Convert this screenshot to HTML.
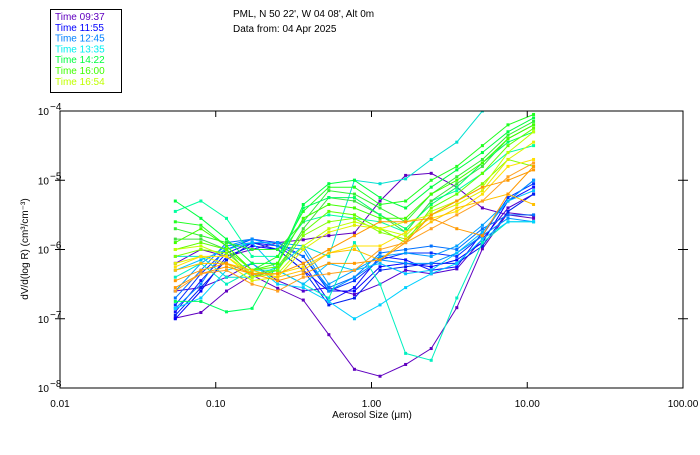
<!DOCTYPE html>
<html><head><meta charset="utf-8">
<style>
body{margin:0;background:#fff;width:700px;height:450px;overflow:hidden;font-family:"Liberation Sans",sans-serif}
svg text{font-family:"Liberation Sans",sans-serif;font-size:10px}
</style></head>
<body>
<svg id="chart" width="700" height="450"></svg>
<script>
const sizes=[];
const firstSize=0.055, logStep=0.1643;
for(let k=0;k<15;k++) sizes.push(firstSize*Math.pow(10,logStep*k));
const seriesColors=["#6000c0","#6000c0","#5000d0","#0000ff","#1010ff","#0030ff","#0020f0","#0070ff","#0090ff","#00a0ff","#00e0d0","#00f0c0","#00d0ff","#00c0ff","#00ffa0",
"#00ff40","#20ff20","#30f030","#40e040","#00ff60","#40ff00","#60ff00","#80ff00","#c0ff00","#e0f000","#ffe000","#ffc000","#ff9900","#ff9900","#ffa020"];
const logValues=[
[-6.99,-6.91,-6.60,-6.37,-6.56,-6.73,-7.23,-7.73,-7.83,-7.66,-7.43,-6.84,-5.99,-5.47,-5.51],
[-6.2,-6.0,-6.1,-6.0,-5.9,-5.86,-5.8,-5.76,-5.3,-4.93,-4.9,-5.1,-5.4,-5.5,-5.55],
[-6.6,-6.55,-6.4,-6.2,-6.45,-6.6,-6.55,-6.65,-6.5,-6.3,-6.35,-6.28,-5.85,-5.4,-5.2],
[-7.0,-6.6,-6.1,-5.95,-6.0,-6.3,-6.6,-6.6,-6.25,-6.2,-6.25,-6.15,-5.9,-5.3,-5.0],
[-6.9,-6.45,-6.05,-5.9,-5.95,-6.2,-6.75,-6.55,-6.1,-6.15,-6.3,-6.25,-5.75,-5.3,-5.1],
[-6.8,-6.35,-6.0,-5.85,-5.9,-6.1,-6.6,-6.45,-6.15,-6.05,-6.05,-6.1,-5.8,-5.25,-5.05],
[-6.95,-6.55,-6.15,-5.9,-6.0,-6.3,-6.8,-6.7,-6.3,-6.25,-6.2,-6.2,-5.95,-5.45,-5.2],
[-6.7,-6.3,-5.9,-5.85,-5.95,-6.1,-6.55,-6.4,-6.05,-6.0,-5.95,-6.0,-5.7,-5.5,-5.5],
[-6.85,-6.5,-5.95,-5.85,-5.95,-6.0,-6.6,-6.4,-6.15,-6.2,-6.2,-6.05,-5.8,-5.55,-5.6],
[-6.6,-6.2,-5.95,-5.9,-5.9,-5.95,-6.5,-6.3,-6.1,-6.05,-6.1,-5.95,-5.65,-5.3,-5.0],
[-6.1,-6.1,-6.4,-6.4,-6.25,-5.95,-6.1,-5.0,-5.05,-4.98,-4.7,-4.45,-4.0,-3.8,-3.8],
[-6.4,-6.2,-6.5,-6.3,-6.3,-6.5,-6.7,-5.9,-6.5,-7.5,-7.6,-6.7,-5.9,-5.6,-5.6],
[-6.85,-6.7,-6.3,-6.2,-6.5,-6.55,-6.75,-7.0,-6.8,-6.55,-6.35,-6.2,-5.85,-5.6,-5.6],
[-6.3,-6.15,-6.0,-5.9,-6.3,-6.5,-6.2,-6.3,-6.2,-6.35,-6.3,-6.05,-5.75,-5.3,-5.15],
[-5.45,-5.3,-5.55,-6.1,-6.1,-5.6,-5.5,-5.55,-5.6,-5.75,-5.3,-5.15,-4.9,-4.6,-4.5],
[-5.3,-5.55,-5.85,-6.2,-6.2,-5.35,-5.05,-5.0,-5.25,-5.4,-5.1,-4.85,-4.6,-4.3,-4.1],
[-5.6,-5.65,-5.95,-6.3,-6.1,-5.45,-5.1,-5.1,-5.35,-5.3,-5.0,-4.8,-4.5,-4.2,-4.05],
[-5.7,-5.8,-5.9,-6.0,-6.0,-5.6,-5.15,-5.2,-5.4,-5.6,-5.2,-4.95,-4.7,-4.35,-4.15],
[-5.85,-5.85,-6.0,-6.4,-6.3,-5.7,-5.25,-5.3,-5.5,-5.75,-5.3,-5.05,-4.8,-4.4,-4.2],
[-6.75,-6.75,-6.9,-6.85,-6.2,-5.4,-5.25,-5.25,-5.5,-5.7,-5.35,-5.1,-4.75,-4.45,-4.3],
[-5.9,-5.7,-5.95,-6.3,-6.2,-5.55,-5.35,-5.4,-5.55,-5.55,-5.2,-5.0,-4.75,-4.4,-4.2],
[-6.0,-5.9,-6.0,-6.3,-6.25,-5.75,-5.45,-5.5,-5.7,-5.9,-5.4,-5.2,-4.9,-4.5,-4.25],
[-6.1,-6.0,-6.05,-6.35,-6.3,-5.8,-5.6,-5.55,-5.75,-5.85,-5.5,-5.3,-5.05,-4.7,-4.8],
[-6.0,-5.95,-6.1,-6.4,-6.35,-5.95,-5.7,-5.6,-5.7,-5.8,-5.45,-5.3,-5.1,-4.6,-4.3],
[-6.2,-6.1,-6.2,-6.45,-6.4,-6.0,-5.75,-5.65,-5.7,-5.6,-5.5,-5.35,-5.15,-4.7,-4.45],
[-6.25,-6.1,-6.1,-6.35,-6.35,-6.25,-6.05,-5.95,-5.95,-5.75,-5.55,-5.45,-5.2,-4.8,-4.7],
[-6.3,-6.2,-6.2,-6.3,-6.4,-6.3,-6.05,-6.0,-6.15,-5.85,-5.6,-5.4,-5.3,-5.2,-5.35],
[-6.55,-6.35,-6.25,-6.35,-6.35,-6.2,-6.0,-5.8,-5.6,-5.6,-5.55,-5.7,-5.8,-5.2,-4.8],
[-6.45,-6.3,-6.2,-6.35,-6.45,-6.35,-6.2,-6.2,-6.15,-5.9,-5.5,-5.3,-5.1,-5.0,-4.85],
[-6.6,-6.35,-6.3,-6.5,-6.6,-6.4,-6.35,-6.3,-6.0,-5.9,-5.7,-5.5,-5.3,-4.95,-4.75]
];
const xTickLabels=["0.01","0.10","1.00","10.00","100.00"];
const yTickExps=[-4,-5,-6,-7,-8];
const legendLabels=["Time 09:37","Time 11:55","Time 12:45","Time 13:35","Time 14:22","Time 16:00","Time 16:54"];
const legendColors=["#6000c0","#0000ff","#0080ff","#00f0f0","#00ff40","#40ff00","#c0ff00"];

const NS="http://www.w3.org/2000/svg";
const svg=document.getElementById("chart");
const L=60,R=683,T=111,B=388;
const xMinLog=-2,xMaxLog=2,yMaxLog=-4,yMinLog=-8;
function xs(v){return L+(Math.log10(v)-xMinLog)/(xMaxLog-xMinLog)*(R-L);}
function ysLog(lv){return T+(yMaxLog-lv)/(yMaxLog-yMinLog)*(B-T);}
function mk(tag,attrs,parent){const e=document.createElementNS(NS,tag);for(const k in attrs)e.setAttribute(k,attrs[k]);(parent||svg).appendChild(e);return e;}

// clip
const defs=mk("defs",{});
const cp=mk("clipPath",{id:"plotclip"},defs);
mk("rect",{x:L,y:T,width:R-L,height:B-T},cp);

const plot=mk("g",{"clip-path":"url(#plotclip)"});


logValues.forEach((vals,si)=>{
  const g=mk("g",{},plot);
  
  
  const pts=vals.map((v,i)=>xs(sizes[i]).toFixed(1)+","+ysLog(v).toFixed(1)).join(" ");
  mk("polyline",{points:pts,fill:"none",stroke:seriesColors[si],"stroke-width":1},g);
  vals.forEach((v,i)=>{
    const m=mk("rect",{x:xs(sizes[i])-1.5,y:ysLog(v)-1.5,width:3,height:3,fill:seriesColors[si]},g);
    
    
  });
});

// frame
const frame=mk("rect",{x:L,y:T,width:R-L,height:B-T,fill:"none",stroke:"#000","stroke-width":1});



// x ticks
xTickLabels.forEach((lab,i)=>{
  const x=L+i*(R-L)/4;
  if(i>0&&i<4){mk("line",{x1:x,x2:x,y1:T,y2:T+6,stroke:"#000"});mk("line",{x1:x,x2:x,y1:B,y2:B-6,stroke:"#000"});}
  const t=mk("text",{x:x,y:B+19,"text-anchor":"middle"});t.textContent=lab;
  
  
});
// y ticks
yTickExps.forEach((e,i)=>{
  const y=ysLog(e);
  if(i>0&&i<4){mk("line",{x1:L-5,x2:L+5,y1:y,y2:y,stroke:"#000"});mk("line",{x1:R-5,x2:R+5,y1:y,y2:y,stroke:"#000"});}
  const t=mk("text",{x:49,y:y+4,"text-anchor":"end"});t.textContent="10";
  
  
  const s=mk("text",{x:50,y:y-1,"font-size":"7px"});s.textContent=String(e).replace("-","−");
  
  
});
const xt=mk("text",{x:372,y:418,"text-anchor":"middle"});xt.textContent="Aerosol Size (\u03bcm)";


const yt=mk("text",{x:0,y:0,"text-anchor":"middle",transform:"translate(28,249) rotate(-90)"});yt.textContent="dV/d(log R) (cm\u00b3/cm\u207b\u00b3)";



// title
const t1=mk("text",{x:233,y:17});t1.textContent="PML, N 50 22', W 04 08', Alt 0m";


const t2=mk("text",{x:233,y:32});t2.textContent="Data from: 04 Apr 2025";



// legend
const lg=mk("g",{});


mk("rect",{x:50.5,y:9.5,width:71,height:83,fill:"#fff",stroke:"#000"},lg);
legendLabels.forEach((lab,i)=>{
  const t=mk("text",{x:55,y:20+i*10.8,fill:legendColors[i]},lg);t.textContent=lab;
  
  
});
</script>
</body></html>
